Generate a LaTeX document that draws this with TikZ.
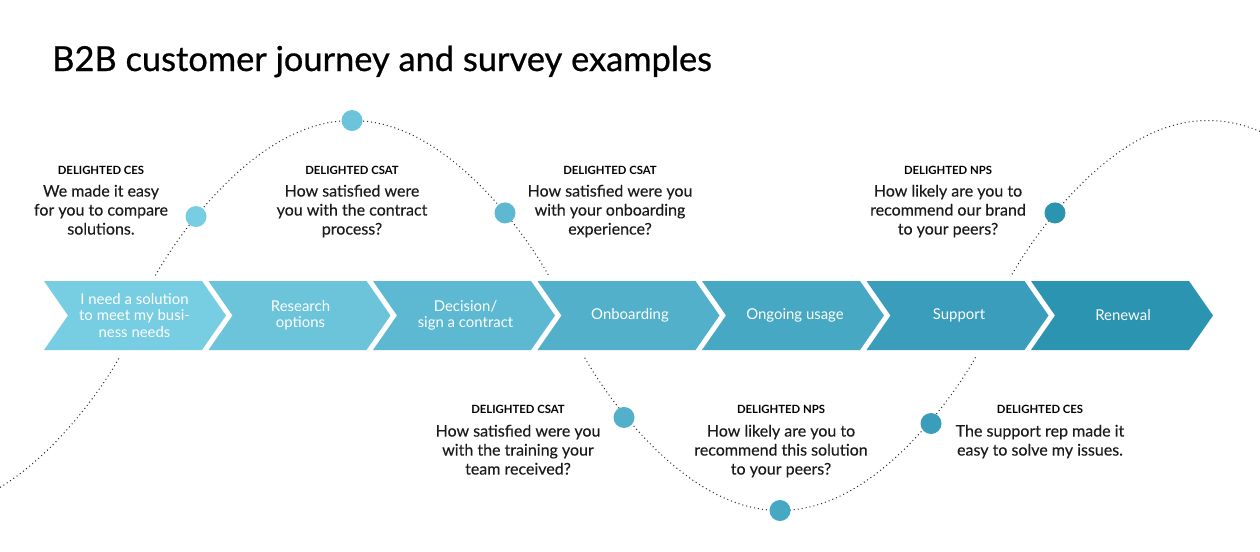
\documentclass[tikz,border=0pt]{standalone}
\usepackage{fontspec}
\setmainfont{Lato}
\newfontfamily\titlefont[FakeBold=0.7]{Lato}
\newfontfamily\bodyfont[FakeBold=0.15]{Lato}
\definecolor{ch1}{HTML}{77CDE1}
\definecolor{ch2}{HTML}{6BC4DA}
\definecolor{ch3}{HTML}{5DB9D2}
\definecolor{ch4}{HTML}{52B0CA}
\definecolor{ch5}{HTML}{47A8C3}
\definecolor{ch6}{HTML}{399DBB}
\definecolor{ch7}{HTML}{2B94B0}
\definecolor{ink}{HTML}{1A1A1A}
\begin{document}
\begin{tikzpicture}[x=0.75pt,y=-0.75pt,
  declare function={wc(\x)=cos((\x-352)/428*180); wy(\x)=315.5-195*wc(\x)*pow(max(abs(wc(\x)),0.001),-0.233);},
  wave/.style={line width=0.75pt, black!85, dash pattern=on 0.75pt off 2.25pt},
  dot/.style={circle, minimum size=15.75pt, inner sep=0pt},
  hdr/.style={font=\bfseries\fontsize{8.5}{10}\selectfont, text=black, inner sep=0pt},
  body/.style={font=\bodyfont\fontsize{12}{14.25}\selectfont, align=center, text=ink, anchor=north, inner sep=0pt},
  stxt/.style={font=\fontsize{11.2}{12.4}\selectfont, align=center, text=white, inner sep=0pt},
]
\useasboundingbox (0,0) rectangle (1260,551);
\fill[white] (0,0) rectangle (1260,551);
% title
\node[anchor=base west, inner sep=0pt, font=\titlefont\fontsize{25.8}{30}\selectfont, text=black] (title) at (52,71) {B2B customer journey and survey examples};
% wave
\draw[wave] plot[domain=0:1260, samples=400] (\x,{wy(\x)});
\fill[white] (0,277) rectangle (1260,356);
% chevrons
\foreach \i/\c in {0/ch1,1/ch2,2/ch3,3/ch4,4/ch5,5/ch6,6/ch7}{
  \fill[\c] ({44+164.5*\i},281) -- ({44+164.5*\i+158},281) -- ({44+164.5*\i+182},315.5)
     -- ({44+164.5*\i+158},350) -- ({44+164.5*\i},350) -- ({44+164.5*\i+24},315.5) -- cycle;
}
\node[stxt] (s1) at (134.5,315.5) {I need a solution\\to meet my busi-\\ness needs};
\node[stxt] (s2) at (300.5,315.5) {Research\\options};
\node[stxt] (s3) at (465.5,315.5) {Decision/\\sign a contract};
\node[stxt] (s4) at (630,315.5) {Onboarding};
\node[stxt] (s5) at (795,315.5) {Ongoing usage};
\node[stxt] (s6) at (959,315.5) {Support};
\node[stxt] (s7) at (1123,315.5) {Renewal};
% dots
\node[dot, fill=ch1] (p1) at (196,{wy(196)}) {};
\node[dot, fill=ch2] (p2) at (352,{wy(352)}) {};
\node[dot, fill=ch3] (p3) at (505,{wy(505)}) {};
\node[dot, fill=ch4] (p4) at (624,{wy(624)+3}) {};
\node[dot, fill=ch5] (p5) at (780,{wy(780)}) {};
\node[dot, fill=ch6] (p6) at (931,{wy(931)+3}) {};
\node[dot, fill=ch7] (p7) at (1055,{wy(1055)}) {};
% upper texts
\node[hdr] (h1) at (101,170) {DELIGHTED CES};
\node[body] (b1) at (101,184.5) {We made it easy\\for you to compare\\solutions.};
\node[hdr] (h2) at (352,170) {DELIGHTED CSAT};
\node[body] (b2) at (352,184.5) {How satisfied were\\you with the contract\\process?};
\node[hdr] (h3) at (610,170) {DELIGHTED CSAT};
\node[body] (b3) at (610,184.5) {How satisfied were you\\with your onboarding\\experience?};
\node[hdr] (h4) at (948,170) {DELIGHTED NPS};
\node[body] (b4) at (948,184.5) {How likely are you to\\recommend our brand\\to your peers?};
% lower texts
\node[hdr] (h5) at (518,409) {DELIGHTED CSAT};
\node[body] (b5) at (518,424.5) {How satisfied were you\\with the training your\\team received?};
\node[hdr] (h6) at (781,409) {DELIGHTED NPS};
\node[body] (b6) at (781,424.5) {How likely are you to\\recommend this solution\\to your peers?};
\node[hdr] (h7) at (1040,409) {DELIGHTED CES};
\node[body] (b7) at (1040,424.5) {The support rep made it\\easy to solve my issues.};
\end{tikzpicture}
\end{document}
